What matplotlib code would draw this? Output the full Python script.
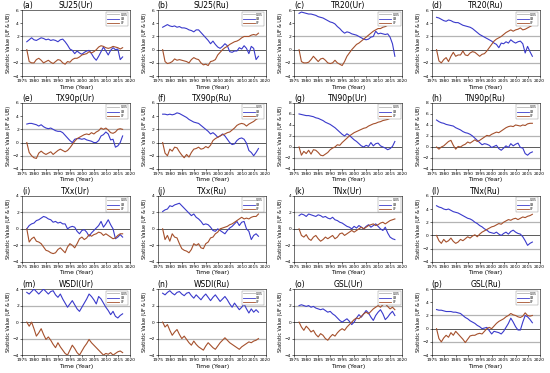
import matplotlib
matplotlib.use("Agg")
import matplotlib.pyplot as plt
from matplotlib.lines import Line2D

years = list(range(1977, 2018))

letters = ["(a)", "(b)", "(c)", "(d)", "(e)", "(f)", "(g)", "(h)",
           "(i)", "(j)", "(k)", "(l)", "(m)", "(n)", "(o)", "(p)"]
names = ["SU25(Ur)", "SU25(Ru)", "TR20(Ur)", "TR20(Ru)",
         "TX90p(Ur)", "TX90p(Ru)", "TN90p(Ur)", "TN90p(Ru)",
         "TXx(Ur)", "TXx(Ru)", "TNx(Ur)", "TNx(Ru)",
         "WSDI(Ur)", "WSDI(Ru)", "GSL(Ur)", "GSL(Ru)"]
ytops = [6, 6, 6, 6, 6, 6, 8, 8, 4, 4, 4, 6, 4, 4, 4, 6]

uf_a = [0, -1.8, -2.0, -2.0, -1.5, -1.3, -1.6, -2.0, -1.8, -1.6, -1.9, -2.1, -1.8, -1.5, -1.6, -2.0, -2.2, -1.8, -1.9, -1.5, -1.3, -1.3, -1.1, -0.8, -0.7, -0.6, -0.3, -0.5, -0.3, 0.0, 0.4, 0.6, 0.5, 0.3, 0.2, 0.3, 0.5, 0.4, 0.3, 0.1, 0.3]
ub_a = [1.2, 1.5, 1.8, 1.5, 1.4, 1.6, 1.8, 1.7, 1.5, 1.6, 1.4, 1.5, 1.4, 1.2, 1.5, 1.6, 1.2, 0.7, 0.1, -0.1, -0.6, -0.2, -0.5, -0.7, -0.4, -0.2, -0.1, -0.6, -1.2, -1.6, -1.0, -0.3, 0.4, -0.2, -0.8, -0.1, 0.3, 0.0, 0.1, -1.5, -1.1]

uf_b = [0, -1.8, -2.1, -2.0, -1.8, -1.4, -1.6, -1.5, -1.6, -1.7, -1.8, -2.0, -1.5, -1.2, -1.4, -1.5, -2.0, -2.3, -2.2, -2.4, -1.8, -1.7, -1.5, -0.8, -0.4, 0.0, 0.3, 0.5, 0.8, 1.0, 1.2, 1.3, 1.5, 1.8, 2.0, 2.0, 2.0, 2.2, 2.3, 2.2, 2.5]
ub_b = [3.4, 3.6, 3.8, 3.6, 3.5, 3.6, 3.4, 3.5, 3.3, 3.3, 3.2, 3.0, 2.9, 2.7, 3.0, 3.0, 2.6, 2.2, 1.8, 1.4, 0.9, 1.3, 0.8, 0.4, 0.2, 0.5, 0.9, 0.6, -0.3, -0.4, -0.2, -0.2, 0.3, 0.1, 0.6, 0.2, -0.6, 0.5, 0.2, -1.5, -1.0]

uf_c = [0, -1.8, -2.0, -2.0, -1.9, -1.5, -1.0, -1.4, -1.8, -1.4, -1.3, -1.6, -2.0, -2.1, -2.0, -1.6, -2.0, -2.2, -2.4, -1.8, -1.0, -0.5, 0.0, 0.4, 0.8, 1.0, 1.3, 1.6, 1.9, 2.2, 2.5, 2.8, 3.0, 3.2, 3.2, 3.4, 3.5, 3.7, 3.9, 4.2, 4.6]
ub_c = [5.5, 5.7, 5.6, 5.5, 5.4, 5.4, 5.3, 5.2, 5.0, 4.9, 4.8, 4.6, 4.4, 4.2, 4.1, 3.9, 3.5, 3.2, 2.8, 2.5, 2.7, 2.6, 2.4, 2.3, 2.2, 2.0, 1.8, 1.6, 1.5, 1.6, 1.9, 2.0, 2.8, 2.4, 2.5, 2.4, 2.3, 2.4, 1.9, 0.9, -1.0]

uf_d = [0, -1.7, -2.0, -1.5, -1.2, -1.8, -1.0, -0.4, -1.0, -0.8, -0.8, -0.2, -0.8, -0.9, -0.5, -0.3, -0.4, -0.7, -1.0, -0.7, -0.6, -0.2, 0.3, 0.8, 1.3, 1.6, 1.8, 2.0, 2.3, 2.6, 2.8, 3.0, 2.8, 3.0, 3.1, 3.3, 3.0, 3.1, 3.3, 3.5, 3.7]
ub_d = [4.9, 4.8, 4.6, 4.4, 4.3, 4.5, 4.4, 4.2, 4.1, 4.1, 3.9, 3.7, 3.6, 3.5, 3.4, 3.2, 2.9, 2.6, 2.3, 2.1, 1.9, 1.7, 1.5, 1.3, 1.0, 0.8, 0.3, 1.0, 0.9, 1.2, 1.0, 1.5, 1.2, 1.0, 1.2, 1.3, 0.9, -0.5, 0.5, -0.3, -1.0]

uf_e = [0, -1.5, -2.0, -2.3, -2.4, -1.6, -1.3, -1.6, -1.8, -1.6, -1.4, -1.8, -1.5, -1.2, -1.0, -1.2, -1.4, -1.2, -0.8, -0.3, 0.2, 0.6, 0.8, 1.0, 1.2, 1.3, 1.2, 1.5, 1.3, 1.6, 1.8, 2.2, 2.0, 2.2, 1.9, 1.5, 1.4, 1.6, 2.0, 2.1, 2.0]
ub_e = [2.8, 2.9, 2.9, 2.8, 2.7, 2.5, 2.7, 2.4, 2.2, 2.1, 2.2, 2.0, 1.8, 1.7, 1.7, 1.5, 1.1, 0.7, 0.3, 0.0, 0.5, 0.6, 0.6, 0.5, 0.6, 0.4, 0.3, 0.2, 0.0, 0.0, 0.3, 1.0, 1.2, 1.6, 1.3, 0.4, 0.5, -0.7, -0.5, 0.0, 1.0]

uf_f = [0, -1.6, -2.0, -1.0, -1.3, -0.7, -0.8, -1.4, -1.9, -2.3, -1.8, -2.2, -1.5, -1.0, -0.9, -0.7, -1.0, -0.9, -0.6, -0.8, -0.4, 0.3, 0.6, 0.8, 1.0, 1.2, 1.3, 1.5, 1.6, 1.9, 2.2, 2.6, 2.8, 2.9, 2.8, 2.5, 2.8, 3.0, 3.2, 3.5, 3.7]
ub_f = [4.3, 4.3, 4.2, 4.3, 4.2, 4.3, 4.5, 4.4, 4.2, 4.0, 3.8, 3.5, 3.3, 3.1, 3.0, 2.9, 2.6, 2.3, 2.0, 1.7, 1.3, 1.5, 1.2, 0.8, 1.0, 1.3, 1.0, 0.5, 0.0, -0.3, -0.2, 0.3, 0.6, 0.7, 0.5, -0.1, -1.2, -1.5, -2.0, -1.5, -0.9]

uf_g = [0, -1.5, -0.8, -1.2, -0.6, -1.3, -0.5, -0.6, -1.0, -1.5, -1.6, -1.3, -1.0, -0.5, -0.2, 0.0, 0.4, 0.3, 0.8, 1.2, 1.6, 2.0, 2.3, 2.6, 2.8, 3.0, 3.2, 3.4, 3.5, 3.8, 4.0, 4.2, 4.3, 4.5, 4.6, 4.8, 4.9, 5.0, 5.2, 5.3, 5.5]
ub_g = [6.0, 5.9, 5.8, 5.7, 5.7, 5.6, 5.5, 5.3, 5.2, 5.0, 4.8, 4.5, 4.3, 4.1, 3.8, 3.5, 3.1, 2.7, 2.3, 2.0, 2.4, 2.1, 1.7, 1.3, 1.0, 0.6, 0.2, 0.0, 0.3, 0.1, 0.8, 0.2, 0.6, 0.7, 0.2, 0.0, -0.2, -0.5, -0.3, 0.1, 1.0]

uf_h = [0, -0.4, 0.0, 0.2, 0.6, 1.0, 1.2, 0.3, -0.4, 0.1, 0.0, 0.3, 0.5, 0.9, 0.7, 1.0, 1.3, 1.0, 1.2, 1.5, 1.8, 2.1, 2.0, 2.3, 2.5, 2.7, 2.6, 2.9, 3.2, 3.5, 3.7, 3.8, 3.7, 4.0, 3.9, 3.8, 4.0, 3.9, 4.2, 4.3, 4.3]
ub_h = [4.9, 4.6, 4.4, 4.3, 4.1, 4.0, 3.9, 3.8, 3.5, 3.3, 3.1, 2.8, 2.6, 2.5, 2.3, 2.0, 1.6, 1.2, 0.8, 0.4, 0.6, 0.5, 0.3, -0.1, 0.1, 0.3, -0.3, -0.6, -0.2, 0.2, -0.1, 0.6, 0.2, 0.5, 0.7, -0.1, -0.2, -1.2, -1.5, -1.1, -0.9]

uf_i = [0, -1.6, -1.2, -1.0, -1.5, -1.6, -1.8, -2.2, -2.6, -2.7, -2.9, -3.0, -2.9, -2.5, -2.3, -2.6, -2.9, -2.2, -1.8, -2.0, -2.3, -1.8, -1.2, -1.0, -1.3, -1.1, -0.7, -0.9, -0.7, -0.6, -0.4, -0.5, -0.8, -0.6, -0.8, -1.0, -1.2, -1.1, -0.8, -0.6, -0.6]
ub_i = [0.0, 0.4, 0.6, 0.7, 1.0, 1.1, 1.3, 1.5, 1.4, 1.2, 1.1, 0.8, 0.9, 0.7, 0.8, 0.6, 0.6, 0.0, 0.2, 0.3, 0.2, -0.3, -0.6, -0.2, -0.1, -0.4, -0.9, -0.5, -0.2, 0.1, 0.4, 0.9, 0.2, 0.6, 1.1, 0.5, 0.0, -1.2, -1.0, -0.7, -1.0]

uf_j = [0, -1.3, -0.8, -1.5, -0.6, -1.0, -1.1, -1.8, -2.4, -2.6, -2.7, -2.9, -2.5, -1.8, -2.0, -1.8, -2.3, -2.4, -1.8, -1.6, -1.1, -1.0, -0.6, -0.4, 0.0, 0.1, 0.2, 0.3, 0.5, 0.6, 0.8, 1.0, 1.2, 1.4, 1.2, 1.3, 1.2, 1.4, 1.5, 1.5, 1.8]
ub_j = [2.1, 2.3, 2.4, 2.8, 2.7, 2.9, 3.0, 3.1, 2.8, 2.5, 2.2, 1.9, 1.6, 1.8, 1.4, 1.2, 0.9, 0.5, 0.6, 0.5, 0.2, -0.2, -0.3, 0.0, -0.2, -0.4, -0.6, -0.2, 0.1, 0.3, 0.6, 0.9, 0.4, 0.8, 0.9, 0.0, -0.3, -1.3, -0.8, -0.6, -0.9]

uf_k = [0, -0.8, -1.0, -0.7, -1.2, -1.4, -1.0, -0.8, -1.2, -1.5, -1.3, -1.0, -1.2, -1.0, -0.8, -1.2, -1.0, -0.6, -0.5, -0.8, -0.6, -0.4, -0.2, -0.4, -0.2, 0.0, 0.2, 0.0, 0.2, 0.4, 0.5, 0.6, 0.4, 0.5, 0.7, 0.8, 0.6, 0.8, 1.0, 1.1, 1.2]
ub_k = [1.6, 1.8, 1.7, 1.5, 1.8, 1.7, 1.6, 1.5, 1.7, 1.6, 1.4, 1.5, 1.3, 1.2, 1.4, 1.1, 1.0, 0.8, 0.7, 0.5, 0.3, 0.2, 0.0, 0.3, 0.1, 0.4, 0.2, 0.0, 0.3, 0.5, 0.2, 0.4, 0.6, 0.3, 0.0, -0.2, 0.2, -0.5, -1.0, -1.2, -1.3]

uf_l = [0, -0.8, -1.2, -0.6, -1.0, -0.8, -0.4, -0.9, -1.2, -1.0, -0.6, -0.8, -0.5, -0.2, -0.4, -0.1, 0.1, -0.2, 0.2, 0.5, 0.7, 0.9, 1.1, 1.3, 1.4, 1.6, 1.8, 1.7, 2.0, 2.2, 2.4, 2.3, 2.5, 2.6, 2.4, 2.6, 2.8, 2.7, 2.9, 3.0, 3.2]
ub_l = [4.5, 4.3, 4.2, 4.0, 3.9, 4.0, 3.8, 3.6, 3.5, 3.4, 3.2, 3.0, 2.8, 2.6, 2.5, 2.3, 2.0, 1.8, 1.5, 1.3, 1.0, 0.8, 0.5, 0.4, 0.3, 0.5, 0.2, 0.0, 0.3, 0.5, 0.2, 0.6, 0.8, 0.5, 0.3, 0.2, -0.2, -0.8, -1.5, -1.2, -1.0]

uf_m = [0, -0.5, 0.0, -0.8, -1.7, -1.3, -0.8, -1.5, -2.1, -1.8, -2.2, -2.7, -3.1, -2.5, -3.0, -3.4, -3.8, -4.0, -3.4, -2.8, -3.2, -3.7, -4.0, -3.5, -3.0, -2.6, -2.1, -2.5, -2.8, -3.1, -3.4, -3.7, -4.0, -3.8, -3.9, -3.7, -4.0, -3.8, -3.6, -3.5, -3.7]
ub_m = [3.6, 3.4, 3.7, 4.0, 3.7, 3.4, 3.7, 4.0, 3.7, 3.4, 3.7, 3.8, 3.3, 3.0, 3.4, 2.8, 2.3, 1.8, 2.2, 2.6, 2.1, 1.6, 1.3, 1.8, 2.3, 2.8, 3.4, 3.1, 2.7, 2.2, 3.1, 2.8, 2.3, 1.8, 1.4, 0.9, 1.3, 0.7, 0.5, 0.8, 1.0]

uf_n = [0, -0.6, -0.3, -1.0, -1.6, -1.2, -0.9, -1.5, -2.0, -1.7, -2.1, -2.5, -2.8, -2.3, -2.7, -3.0, -3.2, -3.4, -2.9, -2.5, -2.8, -3.1, -3.3, -2.9, -2.5, -2.2, -1.9, -2.2, -2.5, -2.7, -2.9, -3.1, -3.3, -3.0, -2.8, -2.6, -2.4, -2.5, -2.3, -2.2, -2.0]
ub_n = [3.5, 3.3, 3.6, 3.8, 3.5, 3.3, 3.6, 3.7, 3.4, 3.2, 3.5, 3.6, 3.2, 2.9, 3.3, 3.0, 2.7, 3.1, 3.4, 3.0, 2.6, 3.0, 3.3, 2.9, 2.5, 2.8, 3.1, 2.7, 2.2, 1.8, 2.3, 1.9, 1.5, 1.8, 2.2, 1.6, 1.1, 1.6, 1.2, 1.5, 1.2]

uf_o = [0, -0.6, -1.0, -0.5, -0.8, -1.2, -1.0, -1.5, -1.8, -1.4, -1.6, -2.0, -2.2, -1.8, -1.5, -1.7, -1.3, -1.0, -0.8, -1.0, -0.6, -0.3, 0.0, 0.3, 0.5, 0.4, 0.7, 1.0, 1.2, 1.0, 1.3, 1.6, 1.8, 2.0, 1.8, 2.1, 2.2, 1.9, 1.6, 1.8, 1.5]
ub_o = [2.0, 2.1, 2.0, 1.9, 2.0, 1.8, 1.9, 1.7, 1.6, 1.5, 1.6, 1.4, 1.2, 1.3, 1.0, 0.8, 0.5, 0.2, 0.0, 0.2, 0.4, 0.1, -0.3, 0.0, 0.5, 0.9, 0.6, 1.0, 1.4, 1.1, 0.6, 0.2, 0.8, 1.2, 1.5, 1.0, 0.3, 0.6, 1.0, 1.3, 0.8]

uf_p = [0, -1.5, -2.0, -1.4, -1.0, -1.3, -0.6, -1.0, -0.4, -0.8, -1.2, -1.6, -2.1, -1.6, -1.1, -1.0, -1.0, -0.8, -0.7, -0.8, -0.4, 0.0, 0.2, 0.0, 0.4, 0.8, 1.1, 1.3, 1.5, 1.8, 2.0, 2.3, 2.1, 2.0, 1.8, 1.7, 1.9, 2.4, 2.0, 1.9, 2.0]
ub_p = [2.9, 2.8, 2.8, 2.7, 2.6, 2.6, 2.6, 2.5, 2.5, 2.4, 2.3, 2.0, 1.7, 1.5, 1.2, 1.0, 0.8, 0.5, 0.3, 0.0, 0.1, 0.2, -0.3, -0.8, -0.4, -0.5, -0.6, -0.8, -0.4, 0.2, 0.8, 1.6, 1.0, 0.3, -0.2, -0.2, 1.0, 2.0, 1.8, 1.4, 0.9]

uf_all = [uf_a, uf_b, uf_c, uf_d, uf_e, uf_f, uf_g, uf_h,
          uf_i, uf_j, uf_k, uf_l, uf_m, uf_n, uf_o, uf_p]
ub_all = [ub_a, ub_b, ub_c, ub_d, ub_e, ub_f, ub_g, ub_h,
          ub_i, ub_j, ub_k, ub_l, ub_m, ub_n, ub_o, ub_p]

UF_COLOR = "#a5502c"
UB_COLOR = "#3a3acb"
SIG_COLOR = "#b4b4b4"

fig = plt.figure(figsize=(5.5, 3.73), dpi=100)
lefts = [0.040, 0.287, 0.535, 0.785]
bottoms = [0.796, 0.547, 0.298, 0.048]
w, h = 0.196, 0.177

for idx in range(16):
    r, c = divmod(idx, 4)
    ax = fig.add_axes([lefts[c], bottoms[r], w, h])
    uf = uf_all[idx]
    ub = ub_all[idx]
    ax.axhline(2, color=SIG_COLOR, lw=0.9, zorder=1)
    ax.axhline(-2, color=SIG_COLOR, lw=0.9, zorder=1)
    ax.axhline(0, color="#404040", lw=0.6, zorder=1)
    ax.plot(years[:len(ub)], ub, color=UB_COLOR, lw=0.8, zorder=3)
    ax.plot(years[:len(uf)], uf, color=UF_COLOR, lw=0.8, zorder=3)
    ax.set_xlim(1975, 2020)
    ax.set_ylim(-4, ytops[idx])
    ax.set_xticks(range(1975, 2021, 5))
    ax.set_yticks(range(-4, ytops[idx] + 1, 2))
    ax.tick_params(labelsize=3.2, length=1.2, width=0.4, pad=1)
    for s in ax.spines.values():
        s.set_linewidth(0.4)
    ax.set_xlabel("Time (Year)", fontsize=4.3, labelpad=1)
    ax.set_ylabel("Statistic Value (UF & UB)", fontsize=3.5, labelpad=1)
    ax.set_title(names[idx], fontsize=5.5, pad=1.5)
    ax.set_title(letters[idx], fontsize=5.5, loc="left", pad=1.5)
    handles = [Line2D([], [], color=SIG_COLOR, lw=0.6),
               Line2D([], [], color=UB_COLOR, lw=0.6),
               Line2D([], [], color=UF_COLOR, lw=0.6)]
    leg = ax.legend(handles, ["0.05", "UB", "UF"], loc="upper right",
                    fontsize=2.2, handlelength=4, borderpad=0.3,
                    labelspacing=0.1, handletextpad=0.4, fancybox=False,
                    framealpha=1, edgecolor="#888888")
    leg.get_frame().set_linewidth(0.3)

fig.savefig("out.png", dpi=100)
